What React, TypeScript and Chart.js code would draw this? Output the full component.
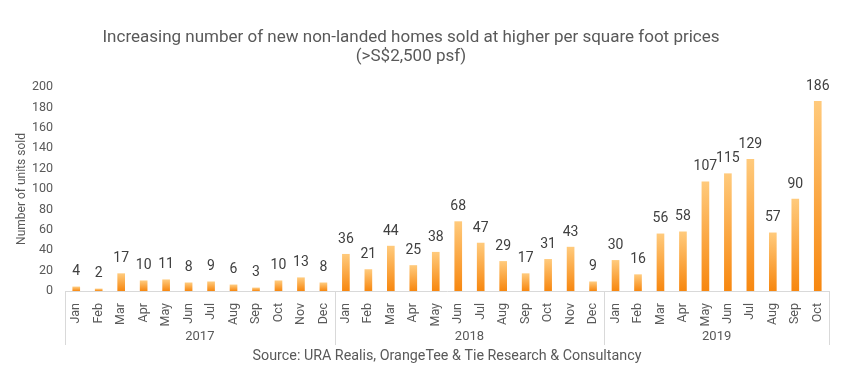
import React, { useEffect, useRef } from "react";
import { Chart, registerables } from "chart.js";

Chart.register(...registerables);

const months2017 = ["Jan","Feb","Mar","Apr","May","Jun","Jul","Aug","Sep","Oct","Nov","Dec"];
const months2018 = ["Jan","Feb","Mar","Apr","May","Jun","Jul","Aug","Sep","Oct","Nov","Dec"];
const months2019 = ["Jan","Feb","Mar","Apr","May","Jun","Jul","Aug","Sep","Oct"];
const values2017 = [4, 2, 17, 10, 11, 8, 9, 6, 3, 10, 13, 8];
const values2018 = [36, 21, 44, 25, 38, 68, 47, 29, 17, 31, 43, 9];
const values2019 = [30, 16, 56, 58, 107, 115, 129, 57, 90, 186];
const years = ["2017", "2018", "2019"];
const titleLines = [
  "Increasing number of new non-landed homes sold at higher per square foot prices",
  "(>S$2,500 psf)",
];
const yAxisTitle = "Number of units sold";
const sourceText = "Source: URA Realis, OrangeTee & Tie Research & Consultancy";

const labels = [...months2017, ...months2018, ...months2019];
const values = [...values2017, ...values2018, ...values2019];
const groupSizes = [months2017.length, months2018.length, months2019.length];

const TEXT = "#595959";
const GRID = "#d9d9d9";
const FONT = "Roboto";

export default function App() {
  const ref = useRef<HTMLCanvasElement | null>(null);
  useEffect(() => {
    const canvas = ref.current!;
    const overlay = {
      id: "overlay",
      afterDatasetsDraw(chart: any) {
        const ctx = chart.ctx;
        const meta = chart.getDatasetMeta(0);
        ctx.save();
        ctx.fillStyle = "#404040";
        ctx.font = `14px ${FONT}`;
        ctx.textAlign = "center";
        ctx.textBaseline = "middle";
        meta.data.forEach((bar: any, i: number) => {
          ctx.fillText(String(values[i]), bar.x, bar.y - 15);
        });
        ctx.restore();
      },
      afterDraw(chart: any) {
        const ctx = chart.ctx;
        const x = chart.scales.x;
        const area = chart.chartArea;
        const step = x.width / labels.length;
        ctx.save();
        ctx.fillStyle = TEXT;
        ctx.font = `17px ${FONT}`;
        ctx.textAlign = "center";
        ctx.textBaseline = "middle";
        ctx.fillText(titleLines[0], 411, 38);
        ctx.fillText(titleLines[1], 411, 57);
        ctx.strokeStyle = GRID;
        ctx.lineWidth = 1;
        let idx = 0;
        const bounds: number[] = [x.left];
        groupSizes.forEach((n) => {
          idx += n;
          bounds.push(x.left + step * idx);
        });
        bounds.forEach((bx) => {
          ctx.beginPath();
          ctx.moveTo(Math.round(bx) + 0.5, area.bottom);
          ctx.lineTo(Math.round(bx) + 0.5, area.bottom + 54);
          ctx.stroke();
        });
        ctx.font = `13px ${FONT}`;
        years.forEach((y, i) => {
          ctx.fillText(y, (bounds[i] + bounds[i + 1]) / 2, area.bottom + 46);
        });
        ctx.font = `14.3px ${FONT}`;
        ctx.fillText(sourceText, 447, area.bottom + 65);
        ctx.restore();
      },
    };
    const chart = new Chart(canvas, {
      type: "bar",
      data: {
        labels,
        datasets: [
          {
            data: values,
            barThickness: 7,
            backgroundColor: (c: any) => {
              const ch = c.chart;
              const ys = ch.scales?.y;
              if (!ys || c.dataIndex === undefined) return "#f7890f";
              const top = ys.getPixelForValue(values[c.dataIndex]);
              const bottom = ys.getPixelForValue(0);
              if (!isFinite(top) || !isFinite(bottom) || top === bottom) return "#f7890f";
              const g = ch.ctx.createLinearGradient(0, top, 0, bottom);
              g.addColorStop(0, "#ffca7c");
              g.addColorStop(1, "#f7870f");
              return g;
            },
          },
        ],
      },
      options: {
        animation: false,
        responsive: false,
        maintainAspectRatio: false,
        layout: { padding: { left: 0, right: 19, top: 87, bottom: 0 } },
        plugins: {
          legend: { display: false },
          tooltip: { enabled: false },
          title: { display: false },
        },
        scales: {
          x: {
            grid: { display: false },
            border: { display: true, color: GRID },
            ticks: {
              color: TEXT,
              font: { family: FONT, size: 12.5 },
              maxRotation: 90,
              minRotation: 90,
              autoSkip: false,
              padding: 4,
            },
            afterFit: (s: any) => {
              s.height = 91;
            },
          },
          y: {
            min: 0,
            max: 200,
            grid: { display: false },
            border: { display: false },
            ticks: {
              stepSize: 20,
              color: TEXT,
              font: { family: FONT, size: 12.5 },
              padding: 4,
            },
            title: {
              display: true,
              text: yAxisTitle,
              color: TEXT,
              font: { family: FONT, size: 12 },
              padding: { top: 15, bottom: 0 },
            },
            afterFit: (s: any) => {
              s.width = 65;
            },
          },
        },
      },
      plugins: [overlay],
    });
    return () => chart.destroy();
  }, []);
  return (
    <div style={{ position: "absolute", left: 0, top: 0, width: 848, height: 382, background: "#fff" }}>
      <canvas ref={ref} width={848} height={382} style={{ width: 848, height: 382 }} />
    </div>
  );
}
